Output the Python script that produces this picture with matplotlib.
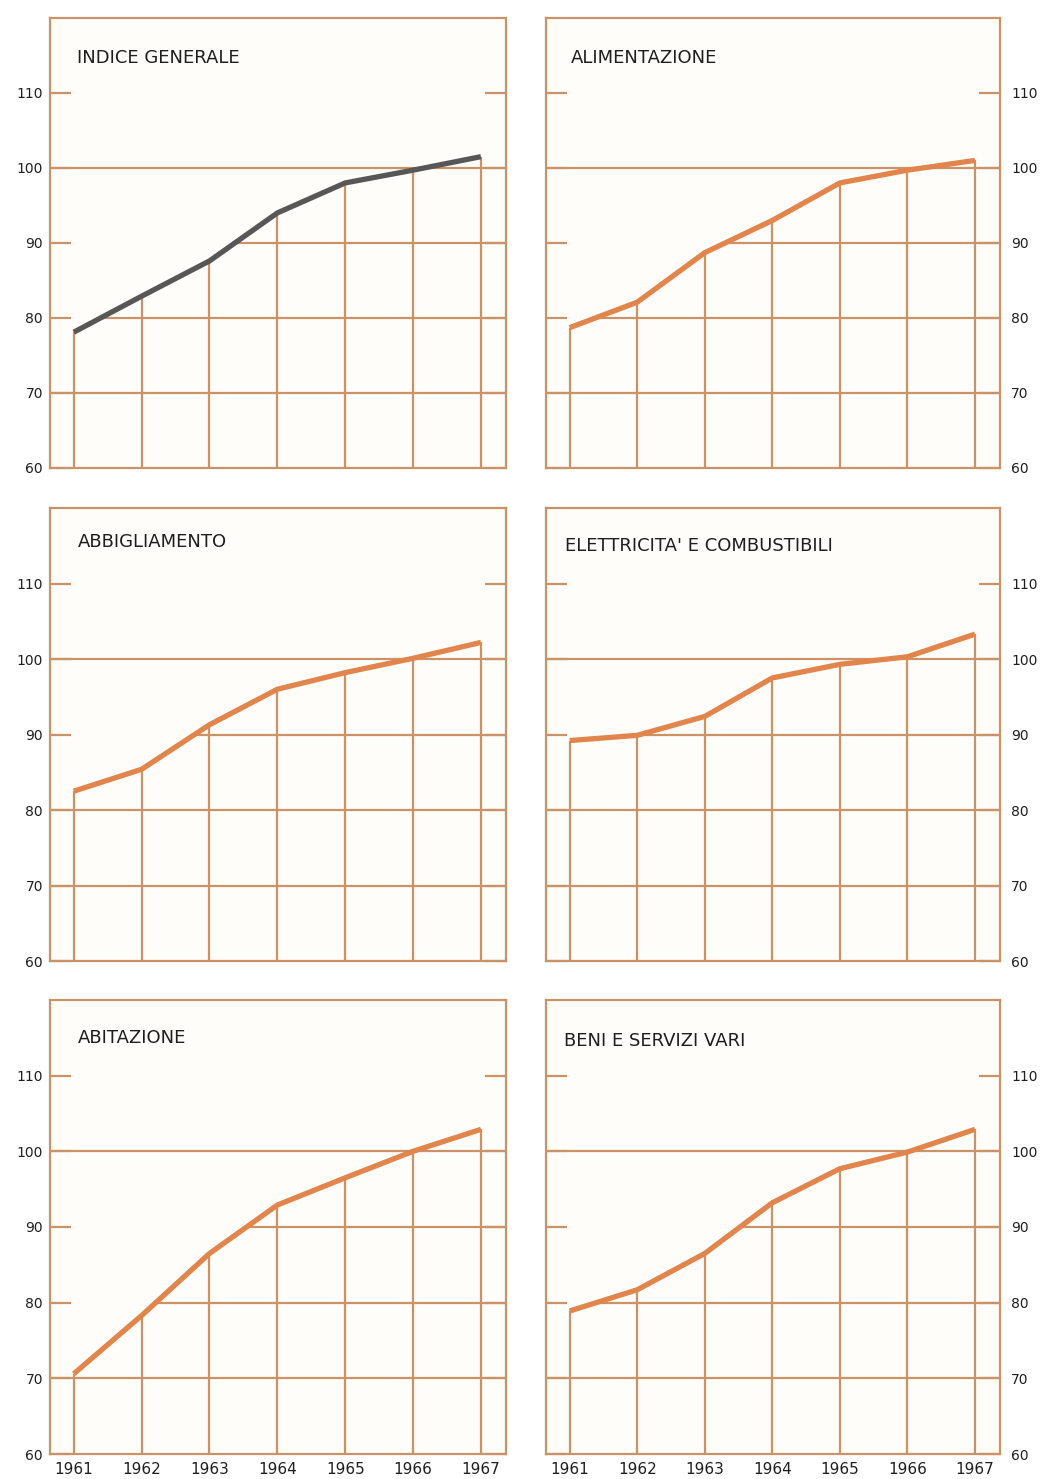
import numpy as np
import matplotlib.pyplot as plt

#----- DATA --------------------------------------------------------
years = [1961, 1962, 1963, 1964, 1965, 1966, 1967]

indice_generale = [78.1, 82.9, 87.6, 94.0, 98.0, 99.7, 101.5]
alimentazione = [78.7, 82.1, 88.7, 93.0, 98.0, 99.7, 101.0]
abbigliamento = [82.5, 85.4, 91.3, 96.0, 98.2, 100.1, 102.2]
elettricita = [89.2, 89.9, 92.4, 97.5, 99.3, 100.3, 103.3]
abitazione = [70.6, 78.3, 86.5, 92.9, 96.5, 100.0, 102.9]
beni_servizi = [78.9, 81.7, 86.5, 93.2, 97.7, 99.9, 102.9]

titles = ["INDICE GENERALE", "ALIMENTAZIONE", "ABBIGLIAMENTO",
          "ELETTRICITA' E COMBUSTIBILI", "ABITAZIONE", "BENI E SERVIZI VARI"]
series = [indice_generale, alimentazione, abbigliamento,
          elettricita, abitazione, beni_servizi]

y_ticks = [60, 70, 80, 90, 100, 110]
grid_levels = [70, 80, 90]

#----- STYLE -------------------------------------------------------
grid_col = '#ca9267'
line_col = '#e2854c'
grey_col = '#575757'
text_col = '#1e1e1e'
XLIM = (1960.65, 1967.37)
YLIM = (60, 120)

plt.rcParams['font.family'] = ['DejaVu Sans']

fig = plt.figure(figsize=(10.47, 14.79), dpi=100)
fig.patch.set_facecolor('white')

# panel boxes in figure fractions
col_x = [0.0478, 0.5215]
col_w = [0.4355, 0.4336]
row_y = [0.6836, 0.3502, 0.0169]
row_h = [0.3043, 0.3063, 0.3070]
title_x = [0.06, 0.055, 0.06, 0.042, 0.06, 0.04]
title_y = [0.91, 0.91, 0.925, 0.917, 0.917, 0.91]

for i, (title, vals) in enumerate(zip(titles, series)):
    r, c = divmod(i, 2)
    ax = fig.add_axes([col_x[c], row_y[r], col_w[c], row_h[r]])
    ax.set_facecolor('#fffdf9')
    ax.set_xlim(*XLIM)
    ax.set_ylim(*YLIM)

    # horizontal grid only where it lies under the curve
    for lev in grid_levels:
        if vals[0] >= lev:
            start = XLIM[0]
        else:
            start = np.interp(lev, vals, years)
        ax.hlines(lev, start, XLIM[1], color=grid_col, lw=1.6, zorder=1)
    ax.axhline(100, color=grid_col, lw=1.6, zorder=1)

    # drop lines from the base up to the curve
    ax.vlines(years, YLIM[0], vals, color=grid_col, lw=1.6, zorder=1)

    ax.plot(years, vals, color=grey_col if i == 0 else line_col,
            lw=3.8, solid_capstyle='butt', zorder=3)

    for sp in ax.spines.values():
        sp.set_color(grid_col)
        sp.set_linewidth(1.6)

    ax.set_yticks(y_ticks)
    ax.set_yticklabels([str(t) for t in y_ticks])
    ax.tick_params(axis='y', direction='in', length=15, width=1.6,
                   color=grid_col, left=True, right=True,
                   labelleft=(c == 0), labelright=(c == 1),
                   labelsize=10, labelcolor=text_col,
                   pad=5 if c == 0 else 8)

    if r == 2:
        ax.set_xticks(years)
        ax.set_xticklabels([str(y) for y in years])
        ax.tick_params(axis='x', length=0, labelsize=11,
                       labelcolor=text_col, pad=6)
    else:
        ax.set_xticks([])

    ax.text(title_x[i], title_y[i], title, transform=ax.transAxes,
            fontsize=13, color=text_col, ha='left', va='center')

fig.savefig('out.png', dpi=100, facecolor='white')
